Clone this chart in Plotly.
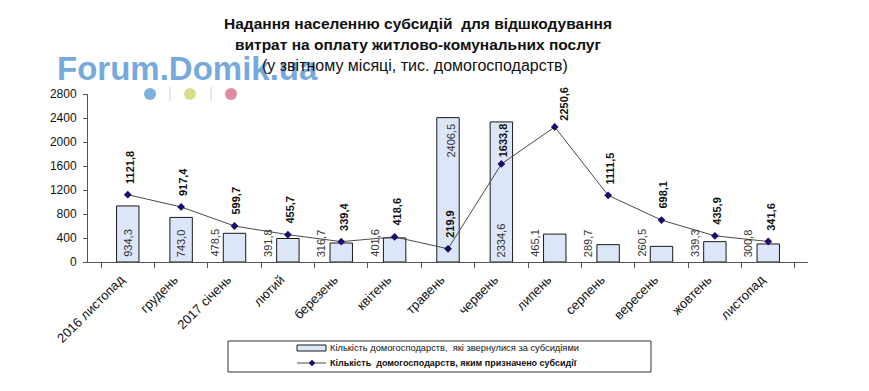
import plotly.graph_objects as go

categories = ["2016 листопад", "грудень", "2017 січень", "лютий", "березень", "квітень",
              "травень", "червень", "липень", "серпень", "вересень", "жовтень", "листопад"]
applied = [934.3, 743.0, 478.5, 391.8, 316.7, 401.6, 2406.5, 2334.6, 465.1, 289.7, 260.5, 339.3, 300.8]
granted = [1121.8, 917.4, 599.7, 455.7, 339.4, 418.6, 219.9, 1633.8, 2250.6, 1111.5, 698.1, 435.9, 341.6]
y_ticks = [0, 400, 800, 1200, 1600, 2000, 2400, 2800]

name_bar = "Кількість домогосподарств,  які звернулися за субсидіями"
name_line = "Кількість  домогосподарств, яким призначено субсидії"

ARIAL = "Liberation Sans, Arial, sans-serif"

BAR_FILL = "#dce6f8"
LINE_COL = "#4a4a4a"
MARK_COL = "#1c0a6b"


def fmt(v):
    return f"{v:.1f}".replace(".", ",")


def px(x):
    return (x - 88) / 720


def py(y):
    return (262 - y) / 168


fig = go.Figure()
fig.add_trace(go.Bar(
    x=categories, y=applied, name=name_bar, width=0.42,
    marker=dict(color=BAR_FILL, line=dict(color="#1a1a1a", width=1)),
))
fig.add_trace(go.Scatter(
    x=categories, y=granted, name=name_line, mode="lines+markers",
    line=dict(color=LINE_COL, width=1),
    marker=dict(symbol="diamond", size=6, color=MARK_COL),
))

ann = []
# bar value labels
for c, v in zip(categories, applied):
    if v > 2400:
        ann.append(dict(x=c, y=v, text=fmt(v), textangle=-90, showarrow=False,
                        yanchor="top", yshift=-4, xshift=3,
                        font=dict(family=ARIAL, size=11, color="#333")))
    elif v > 700:
        ann.append(dict(x=c, y=0, text=fmt(v), textangle=-90, showarrow=False,
                        yanchor="bottom", yshift=3, xshift=0,
                        font=dict(family=ARIAL, size=11, color="#333")))
    else:
        ann.append(dict(x=c, y=0, text=fmt(v), textangle=-90, showarrow=False,
                        yanchor="bottom", yshift=3, xshift=-20,
                        font=dict(family=ARIAL, size=11, color="#333")))
# line value labels
for c, v in zip(categories, granted):
    xs, ys = 2, 9
    if v > 2000:
        xs, ys = 9, 4
    elif v > 1500:
        ys = 5
    ann.append(dict(x=c, y=v, text="<b>" + fmt(v) + "</b>", textangle=-90, showarrow=False,
                    yanchor="bottom", yshift=ys, xshift=xs,
                    font=dict(family=ARIAL, size=11, color="#111")))


def paper_text(x, y, text, size, xanchor="center", bold=False):
    return dict(xref="paper", yref="paper", x=px(x), y=py(y), xanchor=xanchor, yanchor="middle",
                text=("<b>" + text + "</b>") if bold else text, showarrow=False,
                font=dict(family=ARIAL, size=size, color="#111"))


# watermark (drawn before title so title sits on top)
wm = paper_text(55, 68, "Forum.Domik.ua", 33, xanchor="left", bold=True)
wm["font"]["color"] = "rgba(110,165,218,0.95)"
ann.append(wm)
# title lines
ann.append(paper_text(418, 24, "Надання населенню субсидій  для відшкодування", 15.5, bold=True))
ann.append(paper_text(418, 45, "витрат на оплату житлово-комунальних послуг", 15.5, bold=True))
ann.append(paper_text(415, 65, "(у звітному місяці, тис. домогосподарств)", 16))
# manual legend texts
ann.append(paper_text(328, 348, name_bar, 9.3, xanchor="left"))
ann.append(paper_text(328, 363, name_line, 9, xanchor="left", bold=True))

shapes = []
for cx, col in [(150, "#7eb0dc"), (190, "#d9e08d"), (231, "#de8aa0")]:
    shapes.append(dict(type="circle", xref="paper", yref="paper", xsizemode="pixel", ysizemode="pixel",
                       xanchor=px(cx), yanchor=py(94), x0=-6, x1=6, y0=-6, y1=6,
                       fillcolor=col, line=dict(width=0)))
for sx in [170, 211]:
    shapes.append(dict(type="line", xref="paper", yref="paper", x0=px(sx), x1=px(sx),
                       y0=py(101), y1=py(87), line=dict(color="#d0d0d0", width=1)))
# legend box
shapes.append(dict(type="rect", xref="paper", yref="paper", x0=px(228), x1=px(651),
                   y0=py(372), y1=py(341), line=dict(color="#333", width=1), fillcolor="rgba(0,0,0,0)"))
# legend symbols
shapes.append(dict(type="rect", xref="paper", yref="paper", x0=px(297), x1=px(326),
                   y0=py(351), y1=py(345), line=dict(color="#1a1a1a", width=1), fillcolor=BAR_FILL))
shapes.append(dict(type="line", xref="paper", yref="paper", x0=px(297), x1=px(326),
                   y0=py(363), y1=py(363), line=dict(color=LINE_COL, width=1)))
shapes.append(dict(type="path", xref="paper", yref="paper", xsizemode="pixel", ysizemode="pixel",
                   xanchor=px(312), yanchor=py(363), path="M -3 0 L 0 3 L 3 0 L 0 -3 Z",
                   fillcolor=MARK_COL, line=dict(color=MARK_COL, width=0.5)))

fig.update_layout(
    width=869, height=391,
    margin=dict(l=88, r=61, t=94, b=129, autoexpand=False),
    paper_bgcolor="white", plot_bgcolor="white",
    showlegend=False,
    annotations=ann, shapes=shapes,
    xaxis=dict(type="category", showline=True, linecolor="#555", linewidth=1,
               ticks="outside", tickson="boundaries", ticklen=5, tickcolor="#555",
               tickangle=-45, tickfont=dict(family=ARIAL, size=13, color="#111"),
               ticklabelstandoff=4, ticklabelshift=-7,
               showgrid=False, zeroline=False, automargin=False),
    yaxis=dict(range=[0, 2800], tickvals=y_ticks, showline=True, linecolor="#555", linewidth=1,
               ticks="outside", ticklen=4, tickcolor="#555", ticklabelstandoff=4,
               tickfont=dict(family=ARIAL, size=12, color="#111"),
               showgrid=False, zeroline=False, automargin=False),
)

fig.write_html("out.html", config={"displayModeBar": False},
               post_script="document.body.style.margin='0';document.body.style.padding='0';")
